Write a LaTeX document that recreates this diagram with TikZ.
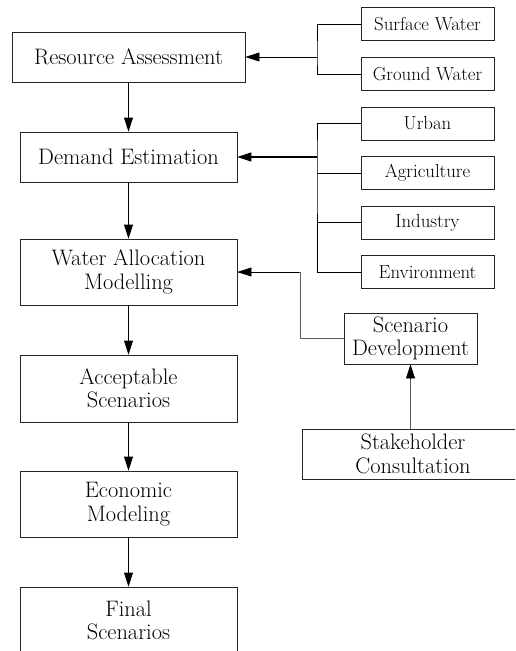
\documentclass[tikz,border=0pt]{standalone}
\usetikzlibrary{arrows.meta}
\begin{document}
\begin{tikzpicture}[x=1pt,y=-1pt,
  mainbox/.style={draw=black!85,line width=0.8pt,inner sep=1pt,align=center,minimum width=217pt,
    font=\fontsize{22.4}{23.5}\selectfont},
  smallbox/.style={draw=black!85,line width=0.8pt,inner sep=1pt,align=center,minimum width=133pt,minimum height=33pt,
    font=\fontsize{18.8}{20}\selectfont},
  sidebox/.style={draw=black!85,line width=0.8pt,inner sep=1pt,align=center,
    font=\fontsize{22.4}{23.5}\selectfont},
  link/.style={line width=0.8pt,black},
  glink/.style={line width=0.9pt,black!65},
  arr/.style={link,-{Triangle[length=14pt,width=9pt]}},
]
\useasboundingbox (0,0) rectangle (515,651);
\clip (0,0) rectangle (515,651);

% main column
\node[mainbox,minimum width=233pt,minimum height=50pt] (RA) at (128.5,57) {Resource Assessment};
\node[mainbox,minimum height=50pt] (DE) at (128.5,157) {Demand Estimation};
\node[mainbox,minimum height=66pt] (WA) at (128.5,272) {Water Allocation\\Modelling};
\node[mainbox,minimum height=67pt] (AS) at (128.5,388.5) {Acceptable\\Scenarios};
\node[mainbox,minimum height=66pt] (EM) at (128.5,504) {Economic\\Modeling};
\node[mainbox,minimum height=67pt] (FS) at (128.5,620.5) {Final\\Scenarios};

% resource inputs
\node[smallbox] (SW) at (427.5,24) {Surface Water};
\node[smallbox] (GW) at (427.5,74) {Ground Water};

% demand inputs
\node[smallbox] (UR) at (427.5,123.5) {Urban};
\node[smallbox] (AG) at (427.5,173) {Agriculture};
\node[smallbox] (IN) at (427.5,222.5) {Industry};
\node[smallbox] (EN) at (427.5,272) {Environment};

% scenario side
\node[sidebox,minimum width=133pt,minimum height=51pt] (SD) at (410.5,338.5) {Scenario\\Development};
\node[sidebox,minimum width=222pt,minimum height=50pt] (SC) at (413,454) {Stakeholder\\Consultation};

% main flow
\draw[arr] (RA) -- (DE);
\draw[arr] (DE) -- (WA);
\draw[arr] (WA) -- (AS);
\draw[arr] (AS) -- (EM);
\draw[arr] (EM) -- (FS);

% resource branch
\coordinate (b1) at (317,57);
\draw[link] (SW.west) -| (b1) |- (GW.west);
\draw[arr] (b1) -- (RA.east);

% demand branch
\coordinate (b2) at (317,157);
\draw[link] (UR.west) -| (b2) |- (EN.west);
\draw[link] (AG.west) -- (AG.west -| b2);
\draw[link] (IN.west) -- (IN.west -| b2);
\draw[arr,line width=1.1pt] (b2) -- (DE.east);

% scenario branch
\coordinate (b3) at (300,338.5);
\draw[glink] (SD.west) -- (b3) |- (WA.east);
\draw[arr] (WA.east -| b3) ++(-1,0) -- (WA.east);
\draw[glink] (SC.north -| SD.south) -- (SD.south);
\draw[arr] (SD.south) ++(0,14) -- (SD.south);
\end{tikzpicture}
\end{document}
